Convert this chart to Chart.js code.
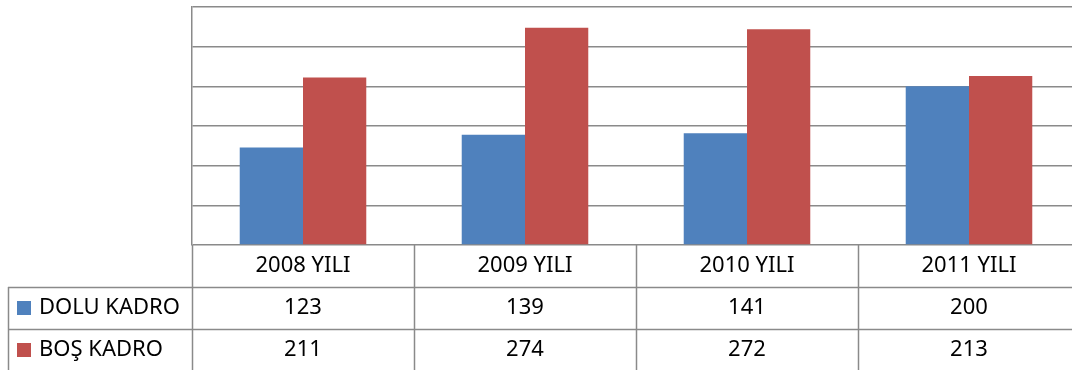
<!DOCTYPE html>
<html>
<head>
<meta charset="utf-8">
<script src="https://cdn.jsdelivr.net/npm/chart.js@4"></script>
<style>
  html, body { margin: 0; padding: 0; background: #fff; overflow: hidden; }
  #wrap { width: 1090px; height: 370px; }
</style>
</head>
<body>
<div id="wrap"><canvas id="kadroChart"></canvas></div>
<script>
// Data
const years = ["2008 YILI", "2009 YILI", "2010 YILI", "2011 YILI"];
const seriesNames = ["DOLU KADRO", "BOŞ KADRO"];
const doluKadro = [123, 139, 141, 200];
const bosKadro = [211, 274, 272, 213];
const seriesColors = ["#4F81BD", "#C0504D"];

const gridColor = "#8a8a8a";
const font = '22px "Noto Sans", "Open Sans", sans-serif';

// Data table under the plot (Excel style)
const tablePlugin = {
    id: "dataTable",
    afterDraw(chart) {
        const ctx = chart.ctx;
        const area = chart.chartArea;
        const x = chart.scales.x;
        const n = years.length;
        const colW = (area.right - area.left) / n;
        const rowH = 42;
        const top = area.bottom;
        const tableLeft = 8;
        const rows = [doluKadro, bosKadro];

        ctx.save();
        ctx.strokeStyle = gridColor;
        ctx.lineWidth = 1.5;
        // horizontal lines
        for (let r = 1; r <= 3; r++) {
            const y = Math.round(top + r * rowH) + 0.5;
            ctx.beginPath();
            ctx.moveTo(tableLeft, y);
            ctx.lineTo(area.right, y);
            ctx.stroke();
        }
        // vertical lines
        for (let c = 0; c <= n; c++) {
            const xx = Math.round(area.left + c * colW) + 0.5;
            ctx.beginPath();
            ctx.moveTo(xx, top);
            ctx.lineTo(xx, top + 3 * rowH);
            ctx.stroke();
        }
        const lx = tableLeft + 0.5;
        ctx.beginPath();
        ctx.moveTo(lx, top + rowH);
        ctx.lineTo(lx, top + 3 * rowH);
        ctx.stroke();

        ctx.fillStyle = "#000";
        ctx.font = font;
        ctx.textBaseline = "middle";
        ctx.textAlign = "center";
        years.forEach((label, i) => {
            const cx = x.getPixelForValue(i);
            ctx.fillText(label, cx, top + rowH / 2);
            rows.forEach((vals, r) => {
                ctx.fillText(String(vals[i]), cx, top + rowH * (r + 1.5));
            });
        });

        // legend keys + series names
        ctx.textAlign = "left";
        seriesNames.forEach((name, r) => {
            const cy = top + rowH * (r + 1.5);
            ctx.fillStyle = seriesColors[r];
            ctx.fillRect(17, cy - 7, 14, 14);
            ctx.fillStyle = "#000";
            ctx.fillText(name, 39, cy);
        });
        ctx.restore();
    }
};

new Chart(document.getElementById("kadroChart").getContext("2d"), {
    type: "bar",
    data: {
        labels: years,
        datasets: [
            { label: seriesNames[0], data: doluKadro, backgroundColor: seriesColors[0] },
            { label: seriesNames[1], data: bosKadro, backgroundColor: seriesColors[1] }
        ]
    },
    options: {
        responsive: true,
        maintainAspectRatio: false,
        animation: false,
        layout: { padding: { left: 192, top: 7, right: 10, bottom: 125 } },
        datasets: { bar: { categoryPercentage: 0.57, barPercentage: 1.0 } },
        plugins: { legend: { display: false }, tooltip: { enabled: false } },
        scales: {
            x: { display: false },
            y: {
                min: 0, max: 300,
                ticks: { display: false, stepSize: 50 },
                grid: { color: gridColor, lineWidth: 1.5, drawTicks: false },
                border: { display: true, color: gridColor, width: 1.5 },
                afterFit(scale) { scale.width = 0; }
            }
        }
    },
    plugins: [tablePlugin]
});
</script>
</body>
</html>
